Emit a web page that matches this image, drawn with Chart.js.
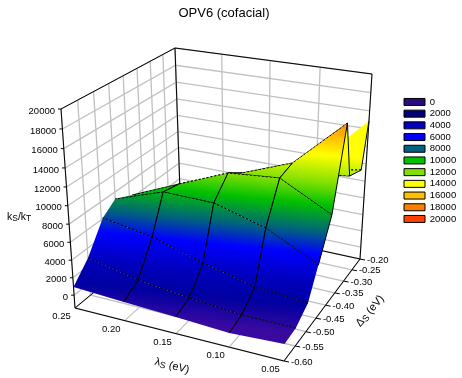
<!DOCTYPE html>
<html>
<head>
<meta charset="utf-8">
<style>body { margin: 0; background: #fff; }</style>
<script src="https://cdn.jsdelivr.net/npm/chart.js@4"></script>
</head>
<body>
<canvas id="myChart" width="462" height="378"></canvas>
<script>
// grid the surface was sampled on
const lambdas = [0.25, 0.2, 0.15, 0.1, 0.05];
const deltas = [-0.6, -0.55, -0.495, -0.45, -0.39, -0.33, -0.3, -0.23, -0.2];
// ks/kt, one row per delta, columns follow lambdas
const surfaceZ = [
  [940, 630, 370, 50, 340],
  [2880, 1670, 990, 480, 480],
  [6080, 5100, 3390, 1990, 1560],
  [7200, 9110, 8980, 7350, 4500],
  [6270, 8660, 10960, 11430, 8470],
  [5250, 7560, 9670, 11810, 17040],
  [3550, 5310, 7020, 10050, 10730],
  [580, 2420, 4820, 8910, 9920],
  [-820, 1710, 4140, 9220, 14870],
];

// tick labels
const zTicks = [0, 2000, 4000, 6000, 8000, 10000, 12000, 14000, 16000, 18000, 20000];
const lambdaTicks = [0.25, 0.2, 0.15, 0.1, 0.05];
const deltaTicks = [-0.6, -0.55, -0.5, -0.45, -0.4, -0.35, -0.3, -0.25, -0.2];

// legend
const legendLevels = ['0', '2000', '4000', '6000', '8000', '10000', '12000', '14000', '16000', '18000', '20000'];
const legendColors = ['#2a0a80', '#00007a', '#0000c0', '#0000ff', '#006080', '#00c000', '#80e000', '#ffff00', '#ffc000', '#ff8000', '#ff4000'];

const FONT = '9.5px "Liberation Sans"';
const GREY = '#c0c0c0';
const zFloor = -1500;

function homography(p) {
  const [a, b, c, d] = p;
  const dx1 = b[0] - c[0], dx2 = d[0] - c[0], dx3 = a[0] - b[0] + c[0] - d[0];
  const dy1 = b[1] - c[1], dy2 = d[1] - c[1], dy3 = a[1] - b[1] + c[1] - d[1];
  const den = dx1 * dy2 - dx2 * dy1;
  const g = (dx3 * dy2 - dx2 * dy3) / den, h = (dx1 * dy3 - dx3 * dy1) / den;
  return (u, v) => {
    const w = g * u + h * v + 1;
    return [
      ((b[0] - a[0] + g * b[0]) * u + (d[0] - a[0] + h * d[0]) * v + a[0]) / w,
      ((b[1] - a[1] + g * b[1]) * u + (d[1] - a[1] + h * d[1]) * v + a[1]) / w,
    ];
  };
}
// box corners: near left, near right, far right, far left
const floorMap = homography([[75, 308], [284, 361], [360, 259], [181, 220]]);
const topMap = homography([[61, 109], [291, 146], [372, 74], [175, 48]]);

// data space -> the x/y values of the two hidden linear scales
function project(l, d, z) {
  const u = (l - 0.25) / (0.05 - 0.25), v = (d + 0.6) / 0.4;
  const f = floorMap(u, v), t = topMap(u, v);
  const s = (z - zFloor) / (20000 - zFloor);
  const k = s * 0.92 / (1 - s + s * 0.92);
  return { x: f[0] + (t[0] - f[0]) * k, y: f[1] + (t[1] - f[1]) * k };
}

const canvas = document.getElementById('myChart');
const ctx = canvas.getContext('2d');

function slantedGradient(stops) {
  const g = ctx.createLinearGradient(275, 120, 252.7, 342.8);
  stops.forEach(([pos, color]) => g.addColorStop((pos - 120) / 225, color));
  return g;
}
const lowStops = [[200, '#00c000'], [228, '#006080'], [250, '#0000ff'], [277, '#0000c0'], [303, '#0000a0'], [332, '#3a0aa0'], [345, '#3a0aa0']];
const surfaceFill = slantedGradient([[120, '#ff9a00'], [132, '#ffc000'], [150, '#ffff00'], [178, '#80e000']].concat(lowStops));
const backFill = slantedGradient([[120, '#ffff00'], [150, '#ffff00'], [178, '#80e000']].concat(lowStops));

const datasets = [];
function addLine(points, color, width) {
  datasets.push({ data: points, borderColor: color, borderWidth: width || 1, pointRadius: 0, showLine: true, tension: 0 });
}
const lMin = 0.25, lMax = 0.05, dMin = -0.6, dMax = -0.2;

// back walls and floor grid
deltaTicks.forEach((d) => {
  addLine([project(lMin, d, zFloor), project(lMin, d, 20000)], GREY, 1.3);
  addLine([project(lMin, d, zFloor), project(lMax, d, zFloor)], GREY, 1.3);
});
lambdaTicks.forEach((l) => {
  addLine([project(l, dMax, zFloor), project(l, dMax, 20000)], GREY, 1.3);
  addLine([project(l, dMin, zFloor), project(l, dMax, zFloor)], GREY, 1.3);
});
zTicks.forEach((z) => {
  addLine([project(lMin, dMin, z), project(lMin, dMax, z), project(lMax, dMax, z)], GREY, 1.3);
});

// box outline
addLine([project(lMin, dMin, zFloor), project(lMin, dMin, 20000), project(lMin, dMax, 20000), project(lMax, dMax, 20000), project(lMax, dMax, zFloor)], '#000');
addLine([project(lMin, dMax, 20000), project(lMin, dMax, zFloor)], '#000');
addLine([project(lMin, dMin, zFloor), project(lMin, dMax, zFloor), project(lMax, dMax, zFloor), project(lMax, dMin, zFloor), project(lMin, dMin, zFloor)], '#000');

// tick marks
zTicks.forEach((z) => {
  const p = project(lMin, dMin, z);
  addLine([p, { x: p.x - 3, y: p.y }], '#000');
});
deltaTicks.forEach((d) => {
  const p = project(lMax, d, zFloor);
  addLine([p, { x: p.x + 5, y: p.y + 1 }], '#000');
});

// surface facets, far ones first so near ones paint over them
for (let j = deltas.length - 2; j >= 0; j--) {
  for (let i = 0; i < lambdas.length - 1; i++) {
    const hidden = [j === 0, i === 3 && j < 3, j === deltas.length - 2, i === 0];
    datasets.push({
      data: [
        project(lambdas[i], deltas[j], surfaceZ[j][i]),
        project(lambdas[i + 1], deltas[j], surfaceZ[j][i + 1]),
        project(lambdas[i + 1], deltas[j + 1], surfaceZ[j + 1][i + 1]),
        project(lambdas[i], deltas[j + 1], surfaceZ[j + 1][i]),
        project(lambdas[i], deltas[j], surfaceZ[j][i]),
      ],
      facetFill: j >= 5 ? backFill : surfaceFill,
      borderWidth: 1,
      pointRadius: 0,
      showLine: true,
      tension: 0,
      segment: {
        borderColor: (c) => (hidden[c.p0DataIndex] ? 'rgba(0,0,0,0)' : '#000'),
        borderDash: (c) => (c.p0DataIndex % 2 === 0 ? [2, 2] : undefined),
      },
    });
  }
}
datasets.forEach((ds, idx) => { ds.order = -idx; });

const facetPlugin = {
  id: 'facets',
  beforeDatasetDraw(chart, args) {
    const fill = chart.data.datasets[args.index].facetFill;
    if (!fill) return;
    const c = chart.ctx;
    c.save();
    c.beginPath();
    args.meta.data.forEach((pt, i) => (i ? c.lineTo(pt.x, pt.y) : c.moveTo(pt.x, pt.y)));
    c.closePath();
    c.fillStyle = fill;
    c.fill();
    c.restore();
  },
};

function pieces(c, parts, x, y) {
  parts.forEach(([text, size, dy]) => {
    c.font = size + 'px "Liberation Sans"';
    c.fillText(text, x, y + dy);
    x += c.measureText(text).width;
  });
}
function partsWidth(c, parts) {
  return parts.reduce((w, [text, size]) => {
    c.font = size + 'px "Liberation Sans"';
    return w + c.measureText(text).width;
  }, 0);
}
function rotatedTitle(c, parts, cx, cy, angle) {
  c.save();
  c.translate(cx, cy);
  c.rotate(angle);
  pieces(c, parts, -partsWidth(c, parts) / 2, 0);
  c.restore();
}

const textPlugin = {
  id: 'boxText',
  afterLayout(chart) {
    // legend sits over the empty right side of the plot
    chart.legend.left = 401.8;
    chart.legend.right = 462;
    chart.legend.top = 95;
  },
  afterDraw(chart) {
    const c = chart.ctx, sx = chart.scales.x, sy = chart.scales.y;
    const px = (p) => ({ x: sx.getPixelForValue(p.x), y: sy.getPixelForValue(p.y) });
    c.save();
    c.fillStyle = '#000';
    c.textBaseline = 'middle';

    c.font = '13px "Liberation Sans"';
    c.textAlign = 'center';
    c.fillText('OPV6 (cofacial)', 224, 13);

    c.font = FONT;
    c.textAlign = 'right';
    zTicks.forEach((z) => {
      const p = px(project(lMin, dMin, z));
      c.fillText(String(z), p.x - 6, p.y + 2);
    });
    c.textAlign = 'center';
    lambdaTicks.forEach((l) => {
      const p = px(project(l, dMin, zFloor));
      c.fillText(l.toFixed(2), p.x - 13.5, p.y + 8.5);
    });
    c.textAlign = 'left';
    deltaTicks.forEach((d) => {
      const p = px(project(lMax, d, zFloor));
      c.fillText(d.toFixed(2), p.x + 7, p.y + 1);
    });

    pieces(c, [['k', 10.5, 0], ['S', 8.5, 2], ['/k', 10.5, 0], ['T', 8.5, 2]], 7, 217);
    rotatedTitle(c, [['\u03bb', 11, 0], ['S', 9, 2], [' (eV)', 11, 0]], 172, 366, 0.25);
    rotatedTitle(c, [['\u0394', 11, 0], ['S', 9, 2], [' (eV)', 11, 0]], 370, 311, -0.87);
    c.restore();
  },
};

new Chart(ctx, {
  type: 'scatter',
  data: { datasets: datasets },
  options: {
    responsive: false,
    animation: false,
    layout: { padding: 0 },
    scales: {
      x: { type: 'linear', min: 0, max: 462, display: false },
      y: { type: 'linear', min: 0, max: 378, reverse: true, display: false },
    },
    plugins: {
      tooltip: { enabled: false },
      legend: {
        position: 'chartArea',
        align: 'start',
        labels: {
          boxWidth: 21,
          boxHeight: 7,
          padding: 2.2,
          color: '#000',
          font: { family: 'Liberation Sans', size: 9.5 },
          generateLabels: () => legendLevels.map((text, i) => ({
            text: text,
            fillStyle: legendColors[i],
            strokeStyle: '#000',
            lineWidth: 1,
            hidden: false,
          })),
        },
      },
    },
  },
  plugins: [facetPlugin, textPlugin],
});
</script>
</body>
</html>
